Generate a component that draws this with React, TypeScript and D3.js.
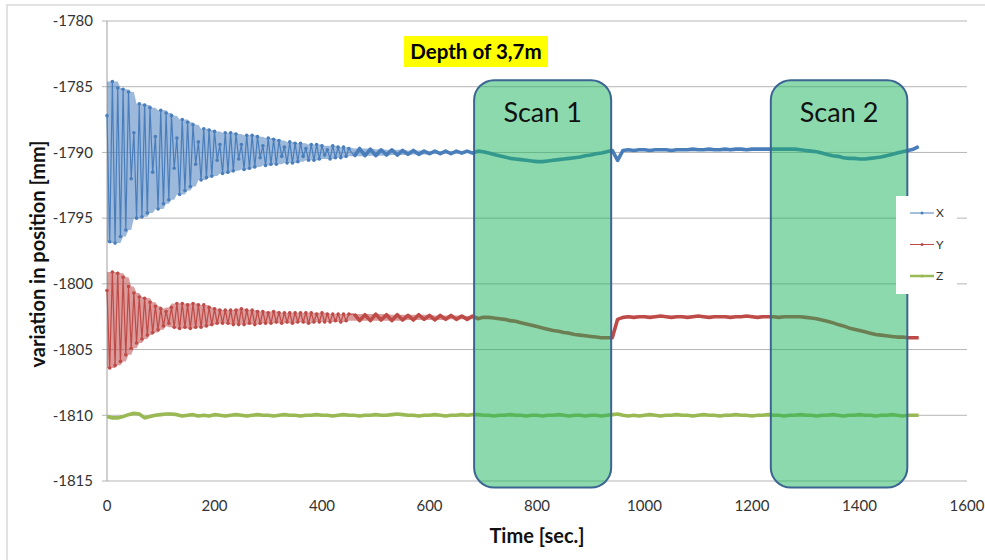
import React from "react";
import * as d3 from "d3";

// ---------- DATA ----------
const xTicks = [0, 200, 400, 600, 800, 1000, 1200, 1400, 1600];
const yTicks = [-1780, -1785, -1790, -1795, -1800, -1805, -1810, -1815];

// oscillating start, sampled every 5 s from t = 0
const xOsc = [
  -1787.2, -1796.8, -1784.6, -1796.9, -1785.1, -1796.4, -1785.2, -1795.9, -1785.4, -1792.0,
  -1788.5, -1795.0, -1786.3, -1794.9, -1786.4, -1794.6, -1786.6, -1791.5, -1788.8, -1794.3,
  -1786.8, -1793.9, -1787.0, -1793.6, -1787.2, -1791.2, -1788.9, -1793.2, -1787.5, -1792.9,
  -1787.7, -1792.6, -1787.9, -1790.9, -1789.2, -1792.1, -1788.2, -1791.9, -1788.3, -1791.8,
  -1788.4, -1790.6, -1789.4, -1791.6, -1788.5, -1791.5, -1788.5, -1791.4, -1788.6, -1790.5,
  -1789.4, -1791.3, -1788.7, -1791.2, -1788.7, -1791.1, -1788.8, -1790.4, -1789.5, -1791.0,
  -1788.9, -1790.9, -1789.0, -1790.9, -1789.1, -1790.3, -1789.6, -1790.8, -1789.2, -1790.8,
  -1789.3, -1790.7, -1789.3, -1790.3, -1789.7, -1790.6, -1789.4, -1790.6, -1789.4, -1790.5,
  -1789.5, -1790.2, -1789.8, -1790.5, -1789.5, -1790.4, -1789.6, -1790.4, -1789.6, -1790.3,
  -1789.7,
];
const yOsc = [
  -1800.5, -1806.4, -1799.1, -1806.2, -1799.2, -1805.9, -1799.5, -1805.4, -1800.2, -1804.9,
  -1800.7, -1804.5, -1801.0, -1804.2, -1801.1, -1803.9, -1801.4, -1803.7, -1801.7, -1803.5,
  -1801.9, -1803.2, -1802.1, -1803.0, -1801.8, -1803.3, -1801.5, -1803.4, -1801.5, -1803.3,
  -1801.6, -1803.4, -1801.5, -1803.3, -1801.6, -1803.3, -1801.6, -1803.2, -1801.8, -1803.1,
  -1801.9, -1803.0, -1802.0, -1803.0, -1802.0, -1803.0, -1802.0, -1803.1, -1802.0, -1803.1,
  -1801.9, -1803.1, -1802.0, -1803.0, -1802.0, -1803.1, -1802.1, -1803.0, -1802.1, -1803.0,
  -1802.2, -1803.0, -1802.1, -1802.9, -1802.2, -1803.0, -1802.2, -1802.9, -1802.2, -1803.0,
  -1802.2, -1802.9, -1802.2, -1802.9, -1802.2, -1803.0, -1802.2, -1802.9, -1802.3, -1802.9,
  -1802.2, -1802.9, -1802.3, -1802.9, -1802.3, -1802.8, -1802.3, -1802.9, -1802.3, -1802.8,
  -1802.3,
];
// calmer part, sampled every 10 s from t = 460
const xCalm = [
  -1790.3, -1789.7, -1790.25, -1789.75, -1790.25, -1789.8, -1790.2, -1789.8, -1790.2, -1789.85,
  -1790.15, -1789.85, -1790.15, -1789.9, -1790.1, -1789.9, -1790.1, -1789.9, -1790.1, -1789.9,
  -1790.05, -1789.9, -1790.05, -1789.9, -1789.95, -1790.05, -1790.15, -1790.25, -1790.35, -1790.45,
  -1790.5, -1790.55, -1790.6, -1790.65, -1790.7, -1790.7, -1790.65, -1790.6, -1790.55, -1790.5,
  -1790.45, -1790.4, -1790.35, -1790.25, -1790.2, -1790.1, -1790.05, -1789.95, -1789.85, -1790.6,
  -1789.85, -1789.8, -1789.85, -1789.8, -1789.8, -1789.85, -1789.8, -1789.8, -1789.8, -1789.85,
  -1789.8, -1789.8, -1789.8, -1789.75, -1789.8, -1789.8, -1789.75, -1789.8, -1789.8, -1789.75,
  -1789.8, -1789.75, -1789.75, -1789.8, -1789.75, -1789.75, -1789.75, -1789.75, -1789.75, -1789.75,
  -1789.75, -1789.75, -1789.75, -1789.8, -1789.85, -1789.9, -1789.95, -1790.05, -1790.15, -1790.25,
  -1790.3, -1790.4, -1790.45, -1790.45, -1790.5, -1790.5, -1790.45, -1790.4, -1790.35, -1790.25,
  -1790.15, -1790.05, -1789.95, -1789.85, -1789.75, -1789.55,
];
const yCalm = [
  -1802.3, -1802.8, -1802.35, -1802.8, -1802.3, -1802.75, -1802.35, -1802.8, -1802.35, -1802.75,
  -1802.4, -1802.75, -1802.35, -1802.7, -1802.4, -1802.75, -1802.4, -1802.7, -1802.4, -1802.7,
  -1802.45, -1802.7, -1802.45, -1802.65, -1802.55, -1802.55, -1802.6, -1802.65, -1802.7, -1802.8,
  -1802.85, -1802.95, -1803.05, -1803.15, -1803.25, -1803.35, -1803.45, -1803.55, -1803.6, -1803.7,
  -1803.75, -1803.85, -1803.9, -1803.95, -1804.0, -1804.05, -1804.1, -1804.1, -1804.1, -1802.7,
  -1802.55, -1802.5, -1802.55, -1802.5, -1802.5, -1802.55, -1802.5, -1802.45, -1802.5, -1802.55,
  -1802.5, -1802.5, -1802.55, -1802.5, -1802.45, -1802.5, -1802.55, -1802.5, -1802.5, -1802.5,
  -1802.55, -1802.5, -1802.5, -1802.45, -1802.5, -1802.55, -1802.5, -1802.5, -1802.5, -1802.55,
  -1802.5, -1802.5, -1802.5, -1802.5, -1802.55, -1802.6, -1802.65, -1802.75, -1802.85, -1802.95,
  -1803.1, -1803.2, -1803.35, -1803.45, -1803.55, -1803.65, -1803.75, -1803.85, -1803.9, -1803.95,
  -1804.0, -1804.05, -1804.05, -1804.1, -1804.1, -1804.1,
];
// Z sampled every 10 s from t = 0
const zAll = [
  -1810.1, -1810.2, -1810.2, -1810.1, -1809.95, -1809.85, -1809.9, -1810.2, -1810.1, -1810.0,
  -1809.95, -1809.9, -1809.9, -1809.95, -1810.05, -1810.0, -1809.95, -1810.05, -1810.0, -1810.05,
  -1809.95, -1810.0, -1810.05, -1810.0, -1809.95, -1810.0, -1810.05, -1810.0, -1809.95, -1810.0,
  -1810.0, -1810.05, -1810.0, -1809.95, -1810.0, -1810.0, -1810.05, -1810.0, -1810.0, -1809.95,
  -1810.0, -1810.0, -1810.05, -1810.0, -1809.95, -1810.0, -1810.0, -1810.05, -1810.0, -1810.0,
  -1809.95, -1810.0, -1810.0, -1809.95, -1809.9, -1809.95, -1810.0, -1810.0, -1810.05, -1810.0,
  -1810.0, -1809.95, -1810.0, -1810.05, -1810.0, -1810.0, -1809.95, -1810.0, -1809.95, -1809.95,
  -1810.0, -1810.0, -1810.05, -1810.0, -1810.0, -1809.95, -1810.0, -1810.0, -1810.05, -1810.0,
  -1810.0, -1810.05, -1810.0, -1810.0, -1809.95, -1810.0, -1810.05, -1810.0, -1810.0, -1810.05,
  -1810.0, -1810.0, -1810.05, -1810.0, -1809.95, -1809.9, -1810.0, -1810.05, -1810.0, -1810.05,
  -1810.0, -1809.95, -1810.0, -1810.05, -1810.0, -1810.0, -1809.95, -1810.0, -1810.0, -1810.05,
  -1810.0, -1809.95, -1810.0, -1810.0, -1810.05, -1810.0, -1810.0, -1809.95, -1810.0, -1810.0,
  -1810.05, -1810.0, -1810.0, -1809.95, -1810.0, -1810.0, -1810.05, -1810.0, -1810.0, -1809.95,
  -1810.0, -1810.0, -1810.05, -1810.0, -1810.0, -1809.95, -1810.0, -1810.05, -1810.0, -1810.0,
  -1809.95, -1810.0, -1810.0, -1810.05, -1810.0, -1810.0, -1809.95, -1810.0, -1810.05, -1810.0,
  -1810.0, -1810.0,
];
const scans = [
  { label: "Scan 1", start: 683, end: 938 },
  { label: "Scan 2", start: 1235, end: 1489 },
];
const legendNames = ["X", "Y", "Z"];
const titleText = "Depth of 3,7m";

// ---------- LAYOUT ----------
const W = 985, H = 560;
const L = 107, R = 967, T = 21, B = 481;
const colors = { X: "#4a7ebb", Y: "#be4b48", Z: "#98b954" };

type P = [number, number];
const withTime = (vals: number[], t0: number, dt: number): P[] => vals.map((v, i) => [t0 + i * dt, v]);

export default function App() {
  const x = d3.scaleLinear().domain([0, 1600]).range([L, R]);
  const y = d3.scaleLinear().domain([-1815, -1780]).range([B, T]);
  const line = d3.line<P>().x(d => x(d[0])).y(d => y(d[1]));

  const xOscP = withTime(xOsc, 0, 5);
  const yOscP = withTime(yOsc, 0, 5);
  const xCalmP = withTime(xCalm, 460, 10);
  const yCalmP = withTime(yCalm, 460, 10);
  const zP = withTime(zAll, 0, 10);

  // envelope of the densely sampled swinging part: local max/min of neighbouring samples
  const band = (pts: P[]) => pts.map((p, i) => {
    const w = pts.slice(Math.max(0, i - 2), Math.min(pts.length, i + 3)).map(q => q[1]);
    return { t: p[0], hi: d3.max(w) as number, lo: d3.min(w) as number };
  });
  const area = d3.area<{ t: number; hi: number; lo: number }>()
    .x(d => x(d.t)).y0(d => y(d.lo)).y1(d => y(d.hi));

  const font = "Lato, 'Open Sans', sans-serif";
  const scanTop = y(-1784.5), scanBot = y(-1815.5);

  const series = [
    { key: "X", osc: xOscP, calm: xCalmP },
    { key: "Y", osc: yOscP, calm: yCalmP },
  ];

  return (
    <svg width={W} height={H} style={{ position: "absolute", left: 0, top: 0, background: "#fff" }} fontFamily={font}>
      <rect x={7} y={5} width={W + 10} height={H + 10} fill="#fff" stroke="#d9d9d9" strokeWidth={1.5} />
      {/* grid */}
      {yTicks.map(t => (
        <line key={t} x1={L - 5} x2={R} y1={y(t)} y2={y(t)} stroke="#b5b5b5" strokeWidth={1} />
      ))}
      <line x1={L} x2={L} y1={T} y2={B} stroke="#a0a0a0" strokeWidth={1} />
      {yTicks.map(t => (
        <text key={t} x={L - 14} y={y(t)} dy="0.35em" textAnchor="end" fontSize={15} fill="#333">{t}</text>
      ))}
      {xTicks.map(t => (
        <text key={t} x={x(t)} y={B + 25} dy="0.35em" textAnchor="middle" fontSize={15} fill="#333">{t}</text>
      ))}
      <text x={537} y={543} textAnchor="middle" fontSize={20} fontWeight="bold" fill="#111">Time [sec.]</text>
      <text transform={`translate(45,${254}) rotate(-90)`} textAnchor="middle" fontSize={20} fontWeight="bold" fill="#111">variation in position [mm]</text>

      {/* series */}
      {series.map(s => {
        const c = (colors as any)[s.key];
        const all = s.osc.concat(s.calm);
        const dense = all.filter(p => p[0] <= 690);
        return (
          <g key={s.key}>
            <path d={area(band(dense)) || ""} fill={c} fillOpacity={0.55} stroke="none" />
            <path d={line(all) || ""} fill="none" stroke={c} strokeWidth={1.2} />
            <path d={line(s.calm) || ""} fill="none" stroke={c} strokeWidth={3.6} strokeLinejoin="round" />
            {s.osc.map((p, i) => (
              <circle key={i} cx={x(p[0])} cy={y(p[1])} r={1.8} fill={c} />
            ))}
          </g>
        );
      })}
      <path d={line(zP) || ""} fill="none" stroke={colors.Z} strokeWidth={3.6} strokeLinejoin="round" />

      {/* scan boxes */}
      {scans.map(s => (
        <g key={s.label}>
          <rect x={x(s.start)} y={scanTop} width={x(s.end) - x(s.start)} height={scanBot - scanTop} rx={20} ry={20}
            fill="rgba(25,179,93,0.5)" stroke="#3b6593" strokeWidth={2} />
          <text x={(x(s.start) + x(s.end)) / 2} y={122} textAnchor="middle" fontSize={27} fill="#111">{s.label}</text>
        </g>
      ))}

      {/* title */}
      <rect x={404} y={36} width={144} height={31} fill="#ffff00" />
      <text x={476} y={59} textAnchor="middle" fontSize={20.5} fontWeight="bold" fill="#000">{titleText}</text>

      {/* legend */}
      <rect x={896} y={196} width={61} height={98} fill="#fff" />
      {legendNames.map((n, i) => {
        const c = (colors as any)[n];
        const ly = 213 + i * 31.5;
        return (
          <g key={n}>
            <line x1={910} x2={934} y1={ly} y2={ly} stroke={c} strokeWidth={n === "Z" ? 2.5 : 1} />
            <circle cx={922} cy={ly} r={1.5} fill={c} />
            <text x={936} y={ly} dy="0.35em" fontSize={12} fill="#333">{n}</text>
          </g>
        );
      })}
    </svg>
  );
}
